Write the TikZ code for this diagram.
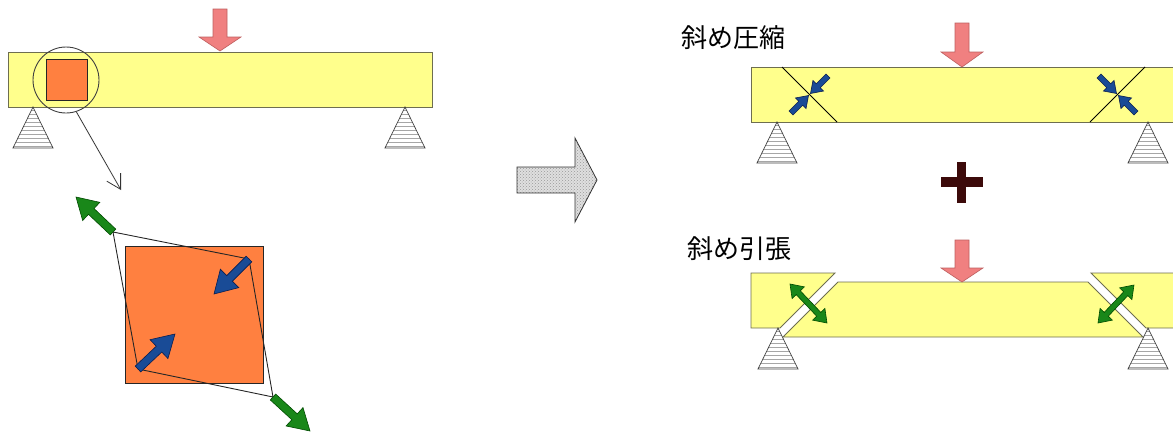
\documentclass[tikz,border=0pt]{standalone}
\usepackage{fontspec}
\newfontfamily\jpfont{Noto Sans CJK JP}
\usetikzlibrary{calc,arrows.meta,patterns}

\definecolor{beamyellow}{RGB}{255,255,140}
\definecolor{beamedge}{RGB}{110,110,80}
\definecolor{loadpink}{RGB}{240,128,128}
\definecolor{loadedge}{RGB}{190,95,95}
\definecolor{tensgreen}{RGB}{25,135,25}
\definecolor{tensedge}{RGB}{0,75,0}
\definecolor{compblue}{RGB}{25,75,150}
\definecolor{compedge}{RGB}{10,30,80}
\definecolor{blockorange}{RGB}{255,128,64}
\definecolor{plusdark}{RGB}{60,10,10}

% block arrow: style, tail, tip, half shaft width, half head width, head length
\newcommand\blockarrow[6]{%
  \coordinate (ba-c) at ($(#3)!#6!(#2)$);
  \draw[#1] ($(#2)!#4!90:(#3)$) -- ($(ba-c)!#4!90:(#3)$) -- ($(ba-c)!#5!90:(#3)$)
    -- (#3) -- ($(ba-c)!#5!-90:(#3)$) -- ($(ba-c)!#4!-90:(#3)$)
    -- ($(#2)!#4!-90:(#3)$) -- cycle;
}
% double-headed block arrow: style, tip one, tip two, half shaft, half head, head length
\newcommand\twowayarrow[6]{%
  \coordinate (tw-a) at ($(#2)!#6!(#3)$);
  \coordinate (tw-b) at ($(#3)!#6!(#2)$);
  \draw[#1] (#2) -- ($(tw-a)!#5!90:(#3)$) -- ($(tw-a)!#4!90:(#3)$)
    -- ($(tw-b)!#4!-90:(#2)$) -- ($(tw-b)!#5!-90:(#2)$) -- (#3)
    -- ($(tw-b)!#5!90:(#2)$) -- ($(tw-b)!#4!90:(#2)$)
    -- ($(tw-a)!#4!-90:(#3)$) -- ($(tw-a)!#5!-90:(#3)$) -- cycle;
}

\begin{document}
\begin{tikzpicture}[x=1pt,y=-1pt,
  beam/.style={fill=beamyellow, draw=beamedge, line width=0.9pt},
  load/.style={fill=loadpink, draw=loadedge, line width=0.6pt},
  tens/.style={fill=tensgreen, draw=tensedge, line width=0.6pt},
  comp/.style={fill=compblue, draw=compedge, line width=0.6pt},
  crack/.style={draw=black, line width=1pt},
  stripe/.style={draw=gray!70, line width=0.7pt},
  supedge/.style={draw=gray!50!black, line width=0.7pt},
  support/.pic={
    \begin{scope}
      \clip (0,0) -- (-20,41) -- (20,41) -- cycle;
      \foreach \yy in {3,7,...,39} {\draw[stripe] (-21,\yy) -- (21,\yy);}
    \end{scope}
    \draw[supedge] (0,0) -- (-20,41) -- (20,41) -- cycle;
  },
  jplabel/.style={font=\jpfont\fontsize{26}{30}\selectfont, anchor=west, inner sep=0pt}
]
\useasboundingbox (0,0) rectangle (1173,434);
\clip (0,0) rectangle (1173,434);

% ---------- simply supported beam with a small element ----------
\draw[beam] (8,52) rectangle (432,107);
\fill[blockorange, draw=black!85, line width=0.9pt] (46,59) rectangle (87,100);
\node[circle, draw=black!75, line width=0.9pt, minimum size=66pt, inner sep=0pt] (zoomring) at (66,80) {};
\pic at (33,107) {support};
\pic at (405,107) {support};
\coordinate (loadAtop) at (220,9);
\coordinate (loadAtip) at (220,51);
\blockarrow{load}{loadAtop}{loadAtip}{7pt}{21pt}{14pt}

% pointer to the enlarged element
\coordinate (zoomend) at (121,190);
\draw[gray!40!black, line width=0.8pt, -{Straight Barb[length=14pt,width=16pt]}] (zoomring.-72) -- (zoomend);

% ---------- enlarged element under shear ----------
\fill[blockorange, draw=black!85, line width=0.9pt] (125,246) rectangle (263,383);
\coordinate (rhA) at (113,232);
\coordinate (rhB) at (249,259);
\coordinate (rhC) at (273,397);
\coordinate (rhD) at (138,369);
\draw[black!85, line width=0.9pt] (rhA) -- (rhB) -- (rhC) -- (rhD) -- cycle;
\coordinate (tensA) at (76,197);
\coordinate (tensB) at (310,431);
\blockarrow{tens}{rhA}{tensA}{4pt}{12.5pt}{21pt}
\blockarrow{tens}{rhC}{tensB}{4pt}{12.5pt}{21pt}
\coordinate (compA) at (214,294);
\coordinate (compB) at (175,334);
\blockarrow{comp}{rhB}{compA}{4pt}{13pt}{22pt}
\blockarrow{comp}{rhD}{compB}{4pt}{13pt}{22pt}

% ---------- "becomes" arrow ----------
\path[fill=gray!25] (517,167) -- (575,167) -- (575,138) -- (597,180) -- (575,222) -- (575,193) -- (517,193) -- cycle;
\path[pattern=crosshatch dots, pattern color=gray!80] (517,167) -- (575,167) -- (575,138) -- (597,180) -- (575,222) -- (575,193) -- (517,193) -- cycle;
\draw[gray!40!black, line width=0.8pt] (517,167) -- (575,167) -- (575,138) -- (597,180) -- (575,222) -- (575,193) -- (517,193) -- cycle;

% ---------- diagonal compression ----------
\node[jplabel] (labcomp) at (681,38) {斜め圧縮};
\draw[beam] (751,67) rectangle (1185,122);
\coordinate (crA1) at (782,67);
\coordinate (crA2) at (837,122);
\coordinate (crB1) at (1145,67);
\coordinate (crB2) at (1090,122);
\draw[crack] (crA1) -- (crA2);
\draw[crack] (crB1) -- (crB2);
\coordinate (cAt1) at (828,76);
\coordinate (cAh1) at (810.5,93.5);
\coordinate (cAt2) at (791,113);
\coordinate (cAh2) at (808.5,95.5);
\blockarrow{comp}{cAt1}{cAh1}{2.8pt}{7.5pt}{11pt}
\blockarrow{comp}{cAt2}{cAh2}{2.8pt}{7.5pt}{11pt}
\coordinate (cBt1) at (1099,76);
\coordinate (cBh1) at (1116.5,93.5);
\coordinate (cBt2) at (1136,113);
\coordinate (cBh2) at (1118.5,95.5);
\blockarrow{comp}{cBt1}{cBh1}{2.8pt}{7.5pt}{11pt}
\blockarrow{comp}{cBt2}{cBh2}{2.8pt}{7.5pt}{11pt}
\pic at (777,122) {support};
\pic at (1148,122) {support};
\coordinate (loadBtop) at (962,23);
\coordinate (loadBtip) at (962,67);
\blockarrow{load}{loadBtop}{loadBtip}{7pt}{21pt}{15pt}

% ---------- plus sign ----------
\fill[plusdark] (957,162) rectangle (966,203);
\fill[plusdark] (941,177) rectangle (983,187);

% ---------- diagonal tension ----------
\node[jplabel] (labtens) at (687,249) {斜め引張};
\draw[beam] (838,282) -- (1088,282) -- (1143,337) -- (783,337) -- cycle;
\draw[beam] (751,273) -- (835,273) -- (780,328) -- (751,328) -- cycle;
\draw[beam] (1091,273) -- (1185,273) -- (1185,328) -- (1146,328) -- cycle;
\coordinate (tAe1) at (790,284);
\coordinate (tAe2) at (827,323);
\twowayarrow{tens}{tAe1}{tAe2}{2.8pt}{8.5pt}{12pt}
\coordinate (tBe1) at (1134,285);
\coordinate (tBe2) at (1098,323);
\twowayarrow{tens}{tBe1}{tBe2}{2.8pt}{8.5pt}{12pt}
\pic at (778,328) {support};
\pic at (1148,328) {support};
\coordinate (loadCtop) at (962,240);
\coordinate (loadCtip) at (962,282);
\blockarrow{load}{loadCtop}{loadCtip}{7pt}{21pt}{14pt}
\end{tikzpicture}
\end{document}
